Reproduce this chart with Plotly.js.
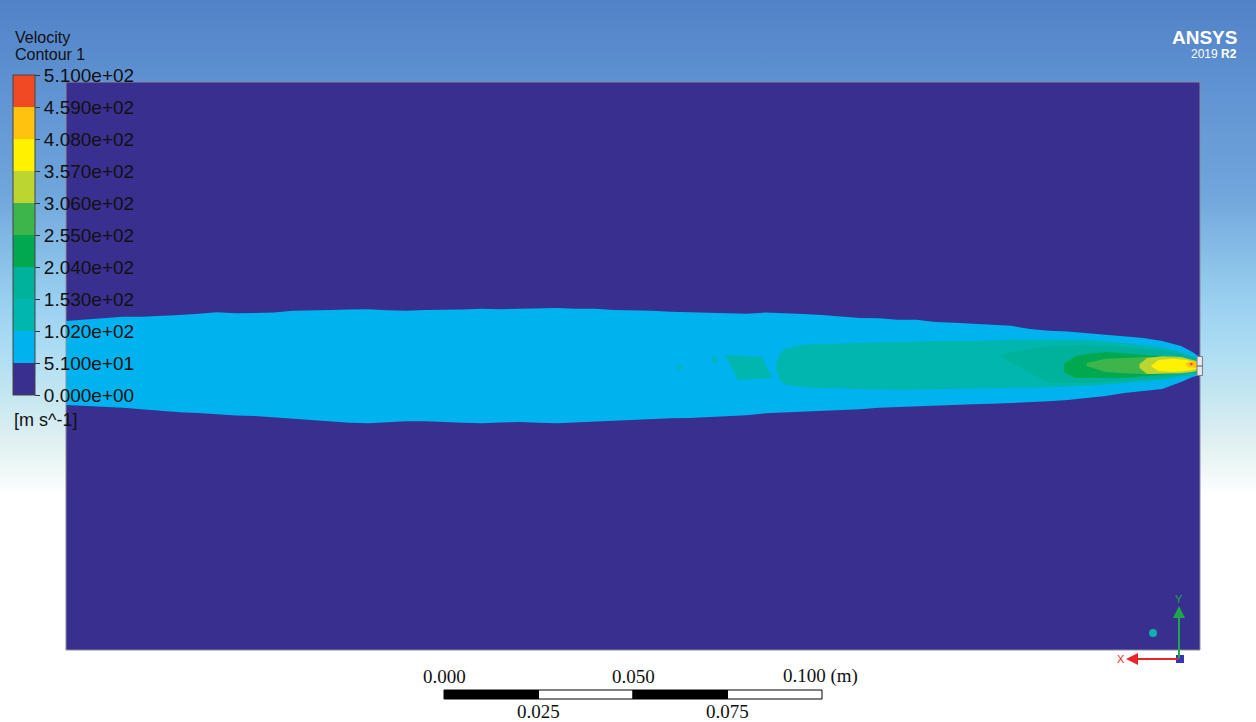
<!DOCTYPE html>
<html>
<head>
<meta charset="utf-8">
<script src="https://cdn.plot.ly/plotly-3.0.1.min.js"></script>
<style>
html,body{margin:0;padding:0;width:1256px;height:722px;overflow:hidden;
background:linear-gradient(to bottom,#5182c7 0px,#5f93d2 90px,#6fa6dc 193px,#96cdee 293px,#aadbf4 343px,#c3e6f1 393px,#e1f0f1 443px,#f4f9f9 477px,#ffffff 495px,#ffffff 722px);}
#chart{width:1256px;height:722px;}
</style>
</head>
<body>
<div id="chart"></div>
<script>
// Contour levels (m s^-1) and band colours
const levels = [0, 51, 102, 153, 204, 255, 306, 357, 408, 459, 510];
const bandColors = ['#392f8f', '#00b3ee', '#00b6ae', '#00b29c', '#00a84f', '#3db54a', '#bdd531', '#fff100', '#ffc20e', '#f04923'];
const tickLabels = ['0.000e+00', '5.100e+01', '1.020e+02', '1.530e+02', '2.040e+02', '2.550e+02', '3.060e+02', '3.570e+02', '4.080e+02', '4.590e+02', '5.100e+02'];

// Plume contour boundaries, x and y in mm (domain 300 x 150 mm, nozzle at x = 300)
// band 51-102
const xB1 = [0,5,10,15,20,25,30,35,40,45,50,55,60,65,70,75,80,85,90,95,100,105,110,115,120,125,130,135,140,145,150,155,160,165,170,175,180,185,190,195,200,205,210,215,220,225,230,235,240,245,250,255,260,265,270,275,280,285,290,295,298,300];
const topB1 = [11.9,12.2,12.7,13.0,13.0,13.2,13.5,13.8,14.2,13.9,14.0,14.1,14.6,14.8,14.8,14.9,15.0,14.7,14.6,14.8,14.8,14.9,15.1,15.0,15.1,15.2,15.3,15.1,15.1,14.8,14.8,14.6,14.3,14.2,14.0,13.8,13.8,14.1,14.0,13.7,13.5,13.1,12.7,12.6,12.2,12.2,11.6,11.4,11.1,10.9,10.6,9.8,9.3,9.1,8.7,8.4,7.9,7.4,6.6,5.3,3.7,2.4];
const botB1 = [-10.3,-10.5,-10.8,-11.0,-11.4,-11.9,-12.2,-12.4,-12.7,-13.1,-13.2,-13.6,-14.0,-14.2,-14.6,-15.0,-15.1,-14.8,-14.6,-14.6,-14.8,-15.0,-15.1,-14.9,-14.8,-15.0,-15.1,-14.9,-14.6,-14.5,-14.3,-14.0,-13.8,-13.7,-13.5,-13.3,-13.0,-12.5,-12.2,-12.0,-11.9,-11.6,-11.4,-11.0,-10.8,-10.8,-10.6,-10.3,-10.1,-10.0,-9.8,-9.6,-9.3,-9.0,-8.5,-7.9,-7.1,-6.6,-6.1,-4.2,-2.9,-2.4];
// band 102-153 (main core)
const xB2 = [188,189,190,195,200,210,220,230,240,250,260,270,280,290,295,298,300];
const topB2 = [1.1,3.4,4.5,5.6,5.8,6.1,6.3,6.6,6.6,6.9,6.9,6.9,6.1,4.8,3.7,2.6,2.1];
const botB2 = [-1.6,-3.6,-4.8,-5.6,-5.8,-6.1,-6.3,-6.3,-6.1,-5.8,-5.6,-5.3,-4.5,-3.7,-2.9,-2.4,-2.1];
// band 102-153 isolated patches (polygons)
const patchAx = [174.3,184.1,186.8,177.8], patchAy = [2.9,2.4,-3.2,-3.7];
const patchBx = [170.9,172.2,172.0,171.1], patchBy = [2.6,2.4,0.8,1.2];
const patchCx = [161.6,163.0,162.6,161.8], patchCy = [0.3,0.0,-1.1,-0.9];
// band 153-204
const xB3 = [247,250,260,270,280,290,295,298,300];
const topB3 = [2.6,3.7,5.3,5.6,5.0,4.2,3.2,2.4,1.6];
const botB3 = [2.6,1.1,-4.5,-4.5,-4.0,-3.2,-2.4,-1.9,-1.6];
// band 204-255
const xB4 = [264,267,270,275,280,285,290,295,298,300];
const topB4 = [0.5,2.6,3.2,3.7,3.4,2.9,2.6,2.1,1.6,1.1];
const botB4 = [-1.6,-3.2,-3.2,-3.2,-3.2,-2.9,-2.4,-1.9,-1.6,-1.1];
// band 255-306
const xB5 = [270,275,280,285,290,295,298,300];
const topB5 = [0.8,1.9,2.1,2.4,2.4,1.9,1.3,0.8];
const botB5 = [0,-1.6,-1.9,-2.1,-1.9,-1.6,-1.3,-0.8];
// band 306-357
const xB6 = [284,286,290,295,298,300];
const topB6 = [0.5,2.1,2.6,2.4,1.6,1.1];
const botB6 = [-0.5,-2.1,-2.1,-1.9,-1.6,-1.1];
// band 357-408
const xB7 = [287,289,293,296.5,299,300];
const topB7 = [0,1.6,1.9,1.6,0.8,0.5];
const botB7 = [0,-1.3,-1.6,-1.3,-0.8,-0.5];
// band 408-459
const xB8 = [296,297,298.5,299.5,300];
const topB8 = [0.5,1.1,1.1,0.5,0.3];
const botB8 = [0.5,-0.3,-0.3,-0.5,-0.5];
// band 459-510 (two small spots)
const spotAx = [297.2,297.7,298.2,297.7], spotAy = [0.5,0.9,0.5,0.1];
const spotBx = [299.3,300,300], spotBy = [0,0.4,-0.4];

// scale bar (m), placed along the x axis
const scaleTicks = [0.000, 0.025, 0.050, 0.075, 0.100];
const scaleStartMM = 100;

function band(xs, top, bot, level) {
  return {
    type: 'scatter', mode: 'lines', fill: 'toself',
    x: xs.concat(xs.slice().reverse()),
    y: top.concat(bot.slice().reverse()),
    line: {width: 0, color: bandColors[level]},
    fillcolor: bandColors[level], hoverinfo: 'skip', showlegend: false
  };
}
function poly(xs, ys, level) {
  return {
    type: 'scatter', mode: 'lines', fill: 'toself', x: xs, y: ys,
    line: {width: 0, color: bandColors[level]},
    fillcolor: bandColors[level], hoverinfo: 'skip', showlegend: false
  };
}

const cs = [];
bandColors.forEach((c, i) => { cs.push([i / 10, c]); cs.push([(i + 1) / 10, c]); });

const px = (p) => (p - 66) / 1134;      // paper x from pixel
const py = (p) => (650 - p) / 568;      // paper y from pixel
const sans = 'Liberation Sans, Arial, sans-serif';
const serif = 'Liberation Serif, Times New Roman, serif';

const traces = [
  band(xB1, topB1, botB1, 1),
  band(xB2, topB2, botB2, 2),
  poly(patchAx, patchAy, 2), poly(patchBx, patchBy, 2), poly(patchCx, patchCy, 2),
  band(xB3, topB3, botB3, 3),
  band(xB4, topB4, botB4, 4),
  band(xB5, topB5, botB5, 5),
  band(xB6, topB6, botB6, 6),
  band(xB7, topB7, botB7, 7),
  band(xB8, topB8, botB8, 8),
  poly(spotAx, spotAy, 9), poly(spotBx, spotBy, 9),
  {
    type: 'scatter', mode: 'markers', x: [-50], y: [-200], hoverinfo: 'skip', showlegend: false,
    marker: {
      color: [0], cmin: levels[0], cmax: levels[levels.length - 1], colorscale: cs, showscale: true,
      colorbar: {
        thickness: 22, thicknessmode: 'pixels', len: 320, lenmode: 'pixels',
        x: px(13), xref: 'paper', xanchor: 'left', xpad: 0,
        y: py(75), yref: 'paper', yanchor: 'top', ypad: 0,
        outlinewidth: 1, outlinecolor: '#444', borderwidth: 0, bgcolor: 'rgba(0,0,0,0)',
        tickmode: 'array', tickvals: levels, ticktext: tickLabels,
        ticks: 'outside', ticklen: 5, tickwidth: 1, tickcolor: '#333',
        tickfont: {family: sans, size: 19, color: '#111'},
        title: {text: ''}
      }
    }
  }
];

const shapes = [];
for (let i = 0; i < scaleTicks.length - 1; i++) {
  shapes.push({
    type: 'rect', xref: 'x', yref: 'paper',
    x0: scaleStartMM + scaleTicks[i] * 1000, x1: scaleStartMM + scaleTicks[i + 1] * 1000,
    y0: py(699), y1: py(690),
    fillcolor: i % 2 === 0 ? '#000000' : '#ffffff', line: {color: '#000', width: 1}
  });
}
shapes.push({type: 'rect', xref: 'paper', yref: 'paper', x0: 0, x1: 1, y0: 0, y1: 1,
  line: {color: '#8c8c9c', width: 1}, fillcolor: 'rgba(0,0,0,0)', layer: 'above'});
// nozzle
shapes.push({type: 'rect', xref: 'paper', yref: 'paper', x0: px(1197), x1: px(1202.5), y0: py(375.5), y1: py(356.5),
  fillcolor: '#e6e8ee', line: {color: '#7a7f8a', width: 1}, layer: 'above'});
shapes.push({type: 'line', xref: 'paper', yref: 'paper', x0: px(1197), x1: px(1202.5), y0: py(366), y1: py(366),
  line: {color: '#555', width: 1}, layer: 'above'});
// triad
shapes.push({type: 'circle', xref: 'paper', yref: 'paper', x0: px(1149), x1: px(1157), y0: py(637), y1: py(629),
  fillcolor: '#12aeb0', line: {width: 0}, layer: 'above'});
shapes.push({type: 'rect', xref: 'paper', yref: 'paper', x0: px(1176), x1: px(1184), y0: py(663), y1: py(655),
  fillcolor: '#3535b8', line: {width: 0}, layer: 'above'});

const annotations = [
  {text: 'Velocity', x: px(13), y: py(37), xanchor: 'left', yanchor: 'middle', font: {family: sans, size: 16, color: '#111'}},
  {text: 'Contour 1', x: px(13), y: py(55), xanchor: 'left', yanchor: 'middle', font: {family: sans, size: 16, color: '#111'}},
  {text: '[m s^-1]', x: px(12), y: py(420), xanchor: 'left', yanchor: 'middle', font: {family: sans, size: 18, color: '#111'}},
  {text: '<b>ANSYS</b>', x: px(1239), y: py(37), xanchor: 'right', yanchor: 'middle', font: {family: sans, size: 19, color: '#ffffff'}},
  {text: '2019 <b>R2</b>', x: px(1239), y: py(54), xanchor: 'right', yanchor: 'middle', font: {family: sans, size: 12, color: '#ffffff'}},
  {text: scaleTicks[0].toFixed(3), xref: 'x', x: scaleStartMM + scaleTicks[0] * 1000, y: py(676), xanchor: 'center', yanchor: 'middle', font: {family: serif, size: 19, color: '#111'}},
  {text: scaleTicks[2].toFixed(3), xref: 'x', x: scaleStartMM + scaleTicks[2] * 1000, y: py(676), xanchor: 'center', yanchor: 'middle', font: {family: serif, size: 19, color: '#111'}},
  {text: scaleTicks[4].toFixed(3) + ' (m)', xref: 'x', x: scaleStartMM + scaleTicks[4] * 1000, xshift: -41, y: py(676), xanchor: 'left', yanchor: 'middle', font: {family: serif, size: 19, color: '#111'}},
  {text: scaleTicks[1].toFixed(3), xref: 'x', x: scaleStartMM + scaleTicks[1] * 1000, y: py(711), xanchor: 'center', yanchor: 'middle', font: {family: serif, size: 19, color: '#111'}},
  {text: scaleTicks[3].toFixed(3), xref: 'x', x: scaleStartMM + scaleTicks[3] * 1000, y: py(711), xanchor: 'center', yanchor: 'middle', font: {family: serif, size: 19, color: '#111'}},
  // triad arrows
  {text: '', x: px(1179), y: py(606), ax: 0, ay: 54, showarrow: true, arrowhead: 2, arrowsize: 1.2, arrowwidth: 2, arrowcolor: '#1aa84a'},
  {text: '', x: px(1126), y: py(659), ax: 54, ay: 0, showarrow: true, arrowhead: 2, arrowsize: 1.2, arrowwidth: 2, arrowcolor: '#e8262a'},
  {text: 'Y', x: px(1179), y: py(599), xanchor: 'center', yanchor: 'middle', font: {family: sans, size: 11, color: '#1aa84a'}},
  {text: 'X', x: px(1121), y: py(659), xanchor: 'center', yanchor: 'middle', font: {family: sans, size: 11, color: '#e8262a'}}
].map(a => Object.assign({xref: 'paper', yref: 'paper', showarrow: false}, a));

const layout = {
  width: 1256, height: 722,
  margin: {l: 66, r: 56, t: 82, b: 72, pad: 0, autoexpand: false},
  paper_bgcolor: 'rgba(0,0,0,0)',
  plot_bgcolor: bandColors[0],
  xaxis: {range: [0, 300], visible: false, fixedrange: true},
  yaxis: {range: [-75, 75], visible: false, fixedrange: true},
  showlegend: false,
  shapes: shapes,
  annotations: annotations
};

Plotly.newPlot('chart', traces, layout, {displayModeBar: false, staticPlot: true});
</script>
</body>
</html>
